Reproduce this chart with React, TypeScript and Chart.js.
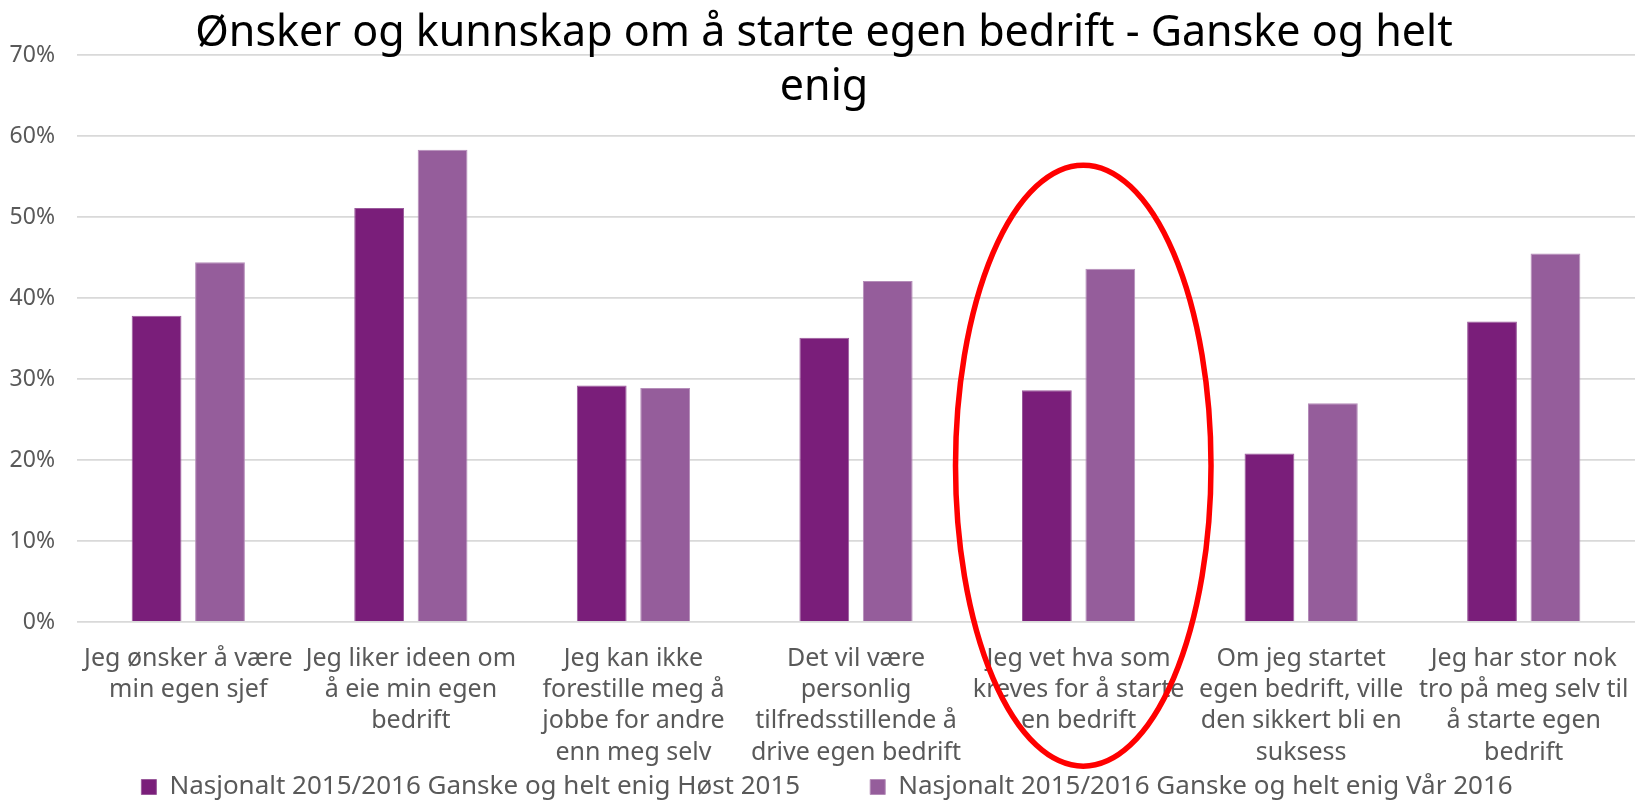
import React, { useEffect, useRef } from "react";
import { Chart, registerables } from "chart.js";

Chart.register(...registerables);

const TITLE_LINES = ["Ønsker og kunnskap om å starte egen bedrift - Ganske og helt", "enig"];

const CATEGORIES: string[][] = [
  ["Jeg ønsker å være", "min egen sjef"],
  ["Jeg liker ideen om", "å eie min egen", "bedrift"],
  ["Jeg kan ikke", "forestille meg å", "jobbe for andre", "enn meg selv"],
  ["Det vil være", "personlig", "tilfredsstillende å", "drive egen bedrift"],
  ["Jeg vet hva som", "kreves for å starte", "en bedrift"],
  ["Om jeg startet", "egen bedrift, ville", "den sikkert bli en", "suksess"],
  ["Jeg har stor nok", "tro på meg selv til", "å starte egen", "bedrift"],
];

const SERIES_NAMES = [
  "Nasjonalt 2015/2016 Ganske og helt enig Høst 2015",
  "Nasjonalt 2015/2016 Ganske og helt enig Vår 2016",
];

const HOST_2015 = [37.8, 51.1, 29.2, 35.1, 28.6, 20.8, 37.1];
const VAR_2016 = [44.4, 58.3, 28.9, 42.1, 43.6, 27.0, 45.5];

const Y_MIN = 0;
const Y_MAX = 70;
const Y_STEP = 10;

// highlighted category (red ellipse), in category index and value units
const HIGHLIGHT_CATEGORY = 4;
const HIGHLIGHT_TOP = 56.4;
const HIGHLIGHT_BOTTOM = -17.8;

const FONT = "'Noto Sans', 'DejaVu Sans', sans-serif";

const CANVAS_W = 1650;
const CANVAS_H = 878;
const X_AXIS_H = 150;
const LEGEND_TOP = 704;
const LEGEND_SHIFT_X = 6;

const highlightPlugin = {
  id: "highlightEllipse",
  afterDraw(chart: any) {
    const xs = chart.scales.x;
    const ys = chart.scales.y;
    const ctx = chart.ctx;
    const cw = xs.getPixelForValue(1) - xs.getPixelForValue(0);
    const cx = xs.getPixelForValue(HIGHLIGHT_CATEGORY) + 0.021 * cw;
    const rx = 0.574 * cw;
    const yTop = ys.getPixelForValue(HIGHLIGHT_TOP);
    const yBot = ys.getPixelForValue(HIGHLIGHT_BOTTOM);
    ctx.save();
    ctx.beginPath();
    ctx.ellipse(cx, (yTop + yBot) / 2, rx, (yBot - yTop) / 2, 0, 0, Math.PI * 2);
    ctx.strokeStyle = "#FF0000";
    ctx.lineWidth = 5.5;
    ctx.stroke();
    ctx.restore();
  },
};

// move the legend row up so that it sits just under the category labels
const legendPlacePlugin = {
  id: "legendPlace",
  afterLayout(chart: any) {
    const lg = chart.legend;
    if (!lg) return;
    const h = lg.bottom - lg.top;
    lg.top = LEGEND_TOP;
    lg.bottom = LEGEND_TOP + h;
    lg.left += LEGEND_SHIFT_X;
    lg.right += LEGEND_SHIFT_X;
  },
};

export default function App() {
  const canvasRef = useRef<HTMLCanvasElement | null>(null);

  useEffect(() => {
    if (!canvasRef.current) return;
    const chart = new Chart(canvasRef.current, {
      type: "bar",
      data: {
        labels: CATEGORIES,
        datasets: [
          {
            label: SERIES_NAMES[0],
            data: HOST_2015,
            backgroundColor: "#7A1E7A",
            borderColor: "#9A5A9B",
            borderWidth: 1,
            categoryPercentage: 0.57,
            barPercentage: 0.785,
          },
          {
            label: SERIES_NAMES[1],
            data: VAR_2016,
            backgroundColor: "#955D9B",
            borderColor: "#B58DB9",
            borderWidth: 1,
            categoryPercentage: 0.57,
            barPercentage: 0.785,
          },
        ],
      },
      options: {
        animation: false,
        responsive: false,
        layout: { padding: { left: 0, right: 8, top: 55, bottom: 0 } },
        plugins: {
          title: { display: false },
          tooltip: { enabled: false },
          legend: {
            display: true,
            position: "bottom",
            align: "center",
            labels: {
              boxWidth: 15,
              boxHeight: 15,
              padding: 70,
              color: "#595959",
              font: { family: FONT, size: 26 },
            },
          },
        },
        scales: {
          x: {
            grid: { display: false, drawTicks: false },
            border: { display: false },
            ticks: {
              autoSkip: false,
              maxRotation: 0,
              minRotation: 0,
              color: "#595959",
              padding: 21,
              font: { family: FONT, size: 25, lineHeight: 1.25 },
            },
            afterFit: (scale: any) => {
              scale.height = X_AXIS_H;
            },
          },
          y: {
            min: Y_MIN,
            max: Y_MAX,
            grid: { color: "#D9D9D9", lineWidth: 1.8, drawTicks: false },
            border: { display: false },
            ticks: {
              stepSize: Y_STEP,
              color: "#595959",
              padding: 22,
              font: { family: FONT, size: 23 },
              callback: (v: any) => `${v}%`,
            },
            afterFit: (scale: any) => {
              scale.width = 77;
            },
          },
        },
      },
      plugins: [legendPlacePlugin, highlightPlugin],
    });
    return () => chart.destroy();
  }, []);

  return (
    <div
      style={{
        position: "fixed",
        left: 0,
        top: 0,
        width: 1635,
        height: 800,
        overflow: "hidden",
        background: "#fff",
      }}
    >
      <canvas
        ref={canvasRef}
        width={CANVAS_W}
        height={CANVAS_H}
        style={{ position: "absolute", left: 0, top: 0, width: CANVAS_W, height: CANVAS_H }}
      />
      <div
        style={{
          position: "absolute",
          left: 0,
          top: 3,
          width: 1648,
          textAlign: "center",
          fontFamily: FONT,
          fontSize: 43,
          lineHeight: "54px",
          color: "#000",
          pointerEvents: "none",
        }}
      >
        {TITLE_LINES[0]}
        <br />
        {TITLE_LINES[1]}
      </div>
    </div>
  );
}
